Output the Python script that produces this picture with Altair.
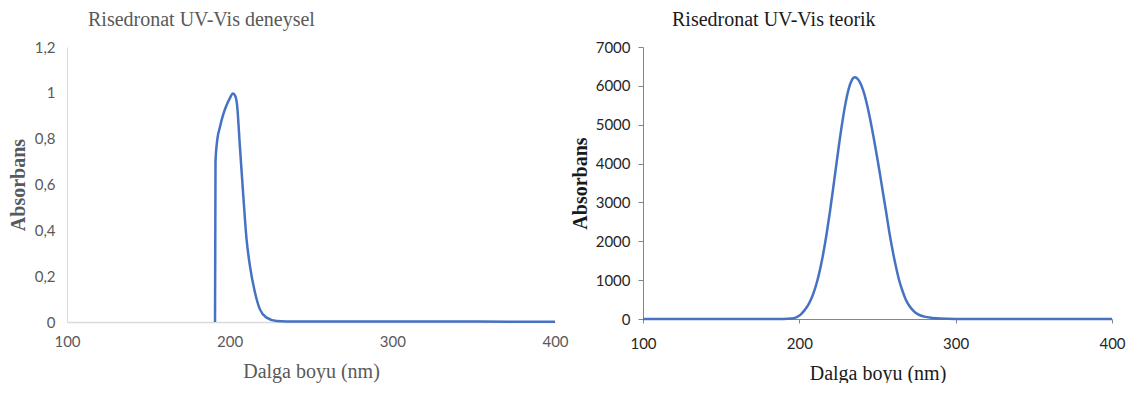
import altair as alt
import pandas as pd

# Experimental spectrum (left)
exp_nm = [191, 191.3, 192.3, 194, 196, 198, 200, 202, 203.5, 204.5, 206.3, 208.4, 210.4,
          212.5, 215.6, 218.6, 222.7, 228.9, 235, 250, 300, 350, 400]
exp_abs = [0.0, 0.70, 0.79, 0.85, 0.905, 0.945, 0.975, 0.997, 0.985, 0.95, 0.765, 0.548, 0.36,
           0.243, 0.128, 0.055, 0.019, 0.004, 0.002, 0.002, 0.002, 0.002, 0.001]

# Theoretical spectrum (right)
teo_nm = [100, 150, 190, 195, 198, 201, 203.5, 205.5, 207.5, 209.5, 211.5, 213.5, 215.5,
          217.5, 219.5, 221.5, 223.5, 225.5, 227.5, 229.5, 231.5, 233.5, 235.5, 237.5,
          239.5, 241.5, 243.5, 245.5, 247.5, 249.5, 251.5, 253.5, 255.5, 257.5, 259.5,
          261.5, 263.5, 266, 268, 270, 273, 276, 280, 285, 290, 300, 350, 400]
teo_abs = [0, 0, 0, 10, 40, 120, 235, 349, 506, 715, 984, 1322, 1729,
           2206, 2742, 3322, 3924, 4517, 5068, 5543, 5910, 6141, 6220, 6170,
           6030, 5800, 5480, 5100, 4680, 4220, 3750, 3250, 2760, 2250, 1800,
           1400, 1050, 720, 510, 360, 210, 120, 60, 28, 12, 3, 0, 0]

x_ticks = [100, 200, 300, 400]
left_y_ticks = [0, 0.2, 0.4, 0.6, 0.8, 1.0, 1.2]
right_y_ticks = [0, 1000, 2000, 3000, 4000, 5000, 6000, 7000]

titles = ["Risedronat UV-Vis deneysel", "Risedronat UV-Vis teorik"]
x_title = "Dalga boyu (nm)"
y_title = "Absorbans"

df_exp = pd.DataFrame({"nm": exp_nm, "abs": exp_abs})
df_teo = pd.DataFrame({"nm": teo_nm, "abs": teo_abs})

LINE = "#4672c4"
SERIF = "Liberation Serif"
SANS = "Lato"

left = alt.Chart(df_exp).mark_line(
    color=LINE, strokeWidth=2.5, interpolate="monotone"
).encode(
    x=alt.X("nm:Q", scale=alt.Scale(domain=[100, 400], nice=False),
            axis=alt.Axis(values=x_ticks, title=x_title, grid=False, ticks=False,
                          labelFlush=False, format="d",
                          domainColor="#d9d9d9", domainWidth=1.5,
                          labelFont=SANS, labelFontSize=15, labelColor="#595959",
                          labelPadding=12, titleFont=SERIF, titleFontSize=20,
                          titleFontWeight="normal", titleColor="#595959", titlePadding=12)),
    y=alt.Y("abs:Q", scale=alt.Scale(domain=[0, 1.2], nice=False),
            axis=alt.Axis(values=left_y_ticks, title=y_title, grid=False, ticks=False,
                          labelExpr="replace(format(datum.value, '.1~f'), '.', ',')",
                          domainColor="#d9d9d9", domainWidth=1,
                          labelFont=SANS, labelFontSize=15, labelColor="#595959",
                          labelPadding=12, titleFont=SERIF, titleFontSize=20,
                          titleFontWeight="bold", titleColor="#595959", titlePadding=6)),
).properties(
    width=488, height=275,
    title=alt.TitleParams(titles[0], anchor="start", frame="group", dx=21,
                          font=SERIF, fontSize=20, fontWeight="normal",
                          color="#595959", offset=10),
)

right = alt.Chart(df_teo).mark_line(
    color=LINE, strokeWidth=2.5, interpolate="monotone"
).encode(
    x=alt.X("nm:Q", scale=alt.Scale(domain=[100, 400], nice=False),
            axis=alt.Axis(values=x_ticks, title=x_title, grid=False, ticks=True,
                          labelFlush=False, format="d",
                          tickSize=4, tickColor="#868686", domainColor="#868686",
                          labelFont=SANS, labelFontSize=15, labelColor="#262626",
                          labelPadding=13, titleFont=SERIF, titleFontSize=20,
                          titleFontWeight="normal", titleColor="#1a1a1a", titlePadding=12)),
    y=alt.Y("abs:Q", scale=alt.Scale(domain=[0, 7000], nice=False),
            axis=alt.Axis(values=right_y_ticks, title=y_title, grid=False, ticks=True,
                          format="d",
                          tickSize=5, tickColor="#868686", domainColor="#868686",
                          labelFont=SANS, labelFontSize=15, labelColor="#262626",
                          labelPadding=8, titleFont=SERIF, titleFontSize=20,
                          titleFontWeight="bold", titleColor="#1a1a1a", titlePadding=5)),
).properties(
    width=469, height=272,
    title=alt.TitleParams(titles[1], anchor="start", frame="group", dx=29,
                          font=SERIF, fontSize=20, fontWeight="normal",
                          color="#1a1a1a", offset=10),
)

chart = alt.hconcat(left, right, spacing=1).configure_view(strokeWidth=0).properties(
    padding={"left": 0, "top": 2, "right": 0, "bottom": 0}
)

chart.save("out.html", embed_options={"renderer": "svg", "actions": False})
